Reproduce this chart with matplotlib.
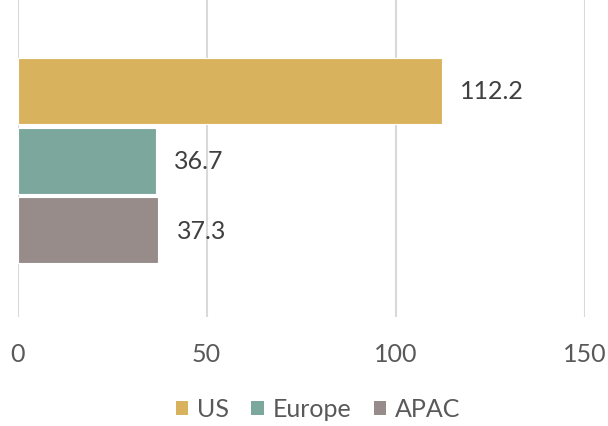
import matplotlib
matplotlib.use("Agg")
import matplotlib.pyplot as plt
from matplotlib.patches import Patch

plt.rcParams['font.family'] = ['Lato', 'DejaVu Sans']

regions = ["US", "Europe", "APAC"]
values = [112.2, 36.7, 37.3]
colors = ["#D8B25D", "#7BA79C", "#978C8A"]
x_ticks = [0, 50, 100, 150]

fig = plt.figure(figsize=(6.08, 4.27), dpi=100)
ax = fig.add_axes([17.5 / 608, 1 - 318 / 427, (584.5 - 17.5) / 608, 318 / 427])

positions = list(range(len(regions)))
ax.barh(positions, values, height=0.95, color=colors,
        edgecolor="white", linewidth=0.8, zorder=3)

for pos, val in zip(positions, values):
    ax.annotate(f"{val:.1f}", xy=(val, pos), xytext=(18, 0),
                textcoords="offset pixels",
                va="center", ha="left", fontsize=18, color="#404040")

ax.set_xlim(0, 150)
ax.set_ylim(3.245, -1.32)
ax.set_xticks(x_ticks)
ax.set_xticklabels([str(t) for t in x_ticks], fontsize=18, color="#595959")
ax.set_yticks([])
ax.tick_params(axis="x", length=0, pad=18)
ax.grid(axis="x", color="#D9D9D9", linewidth=1.5, zorder=0)
for s in ax.spines.values():
    s.set_visible(False)

handles = [Patch(facecolor=c, edgecolor="none") for c in colors]
fig.legend(handles, regions, loc="center", bbox_to_anchor=(318 / 608, 1 - 410 / 427),
           ncol=3, frameon=False, fontsize=18, handlelength=0.5, handleheight=0.5,
           handletextpad=0.35, columnspacing=0.9, labelcolor="#595959")

fig.savefig("out.png", dpi=100)
